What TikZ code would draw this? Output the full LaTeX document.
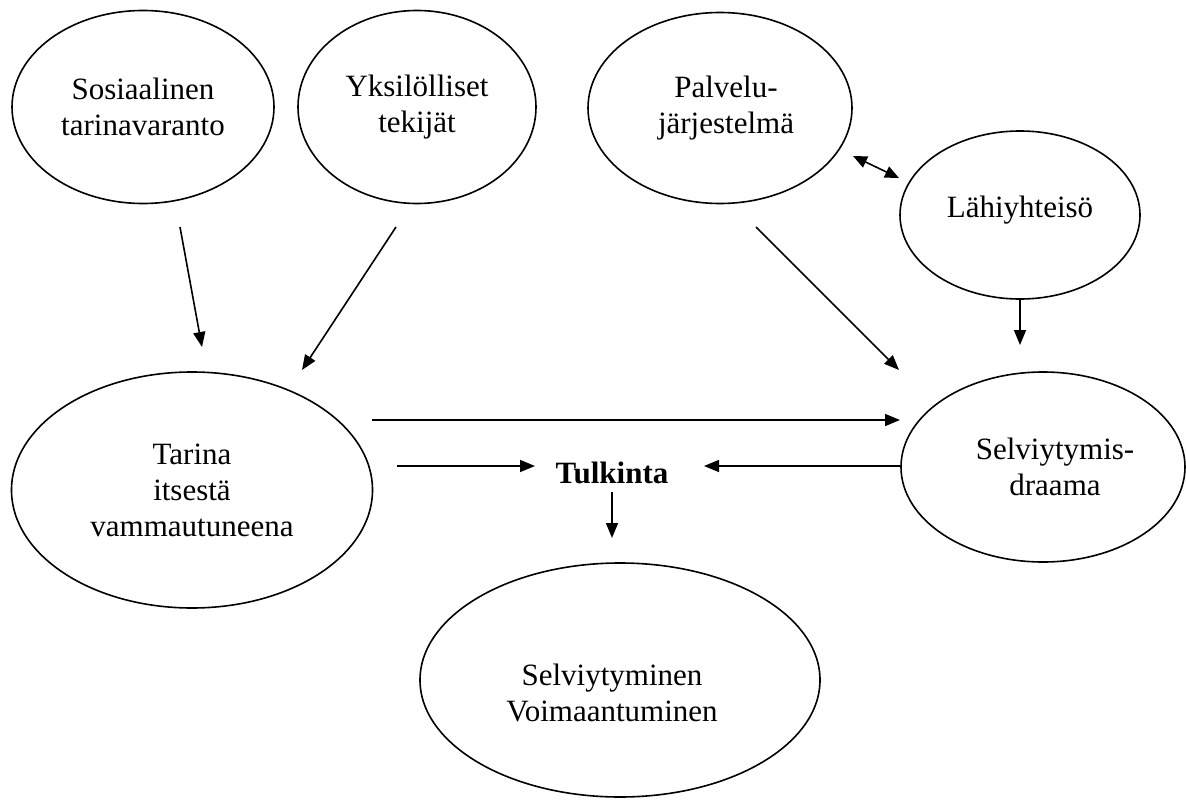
\documentclass[tikz,border=0pt]{standalone}
\usepackage{fontspec}
\setmainfont{Liberation Serif}
\usetikzlibrary{shapes.geometric,arrows.meta}
\begin{document}
\begin{tikzpicture}[x=1pt,y=-1pt,
  oval/.style={draw, ellipse, line width=1.6pt, inner sep=0pt},
  txt/.style={align=center, inner sep=0pt, font=\fontsize{31}{36}\selectfont},
  arr/.style={line width=1.6pt, -{Triangle[length=15pt,width=12pt]}},
  biarr/.style={line width=1.6pt,
    {Triangle[length=14pt,width=12pt]}-{Triangle[length=14pt,width=12pt]}}]
\useasboundingbox (0,0) rectangle (1186,800);

% ellipses
\node[oval, minimum width=262pt, minimum height=193pt] (sos) at (143,107) {};
\node[oval, minimum width=238pt, minimum height=193pt] (yks) at (417,107) {};
\node[oval, minimum width=264pt, minimum height=191pt] (pal) at (720,108) {};
\node[oval, minimum width=240pt, minimum height=168pt] (lah) at (1020,215) {};
\node[oval, minimum width=361pt, minimum height=236pt] (tar) at (192,490) {};
\node[oval, minimum width=284pt, minimum height=190pt] (dra) at (1043,467) {};
\node[oval, minimum width=400pt, minimum height=234pt] (voi) at (620,680) {};

% texts inside the ellipses
\node[txt] (sosT) at (sos.center) {Sosiaalinen\\tarinavaranto};
\node[txt] (yksT) at (yks.center) {Yksilölliset\\tekijät};
\node[txt] (palT) at ([xshift=6pt]pal.center) {Palvelu-\\järjestelmä};
\node[txt] (lahT) at ([yshift=5pt]lah.center) {Lähiyhteisö};
\node[txt] (tarT) at (tar.center) {Tarina\\itsestä\\vammautuneena};
\node[txt] (draT) at ([xshift=12pt]dra.center) {Selviytymis-\\draama};
\node[txt] (voiT) at ([xshift=-8pt,yshift=-13pt]voi.center) {Selviytyminen\\Voimaantuminen};
\node[txt, font=\fontsize{31}{36}\selectfont\bfseries, anchor=base] (tulk) at (612,483) {Tulkinta};

% arrow end points
\coordinate (sosOut) at (180,227);
\coordinate (tarInA) at (202,347);
\coordinate (yksOut) at (396,227);
\coordinate (tarInB) at (302,370);
\coordinate (palOut) at (756,227);
\coordinate (draInA) at (899,370);
\coordinate (lahOut) at (1020,300);
\coordinate (draInB) at (1020,345);
\coordinate (palSide) at (853,156);
\coordinate (lahSide) at (899,178);
\coordinate (tarOutA) at (372,420);
\coordinate (draInC) at (900,420);
\coordinate (tarOutB) at (397,466);
\coordinate (tulkInL) at (535,466);
\coordinate (draOut) at (901,466);
\coordinate (tulkInR) at (704,466);
\coordinate (tulkOut) at (612,492);
\coordinate (voiIn) at (612,538);

% connectors
\draw[arr] (sosOut) -- (tarInA);
\draw[arr] (yksOut) -- (tarInB);
\draw[arr] (palOut) -- (draInA);
\draw[arr] (lahOut) -- (draInB);
\draw[biarr] (palSide) -- (lahSide);
\draw[arr] (tarOutA) -- (draInC);
\draw[arr] (tarOutB) -- (tulkInL);
\draw[arr] (draOut) -- (tulkInR);
\draw[arr] (tulkOut) -- (voiIn);
\end{tikzpicture}
\end{document}
